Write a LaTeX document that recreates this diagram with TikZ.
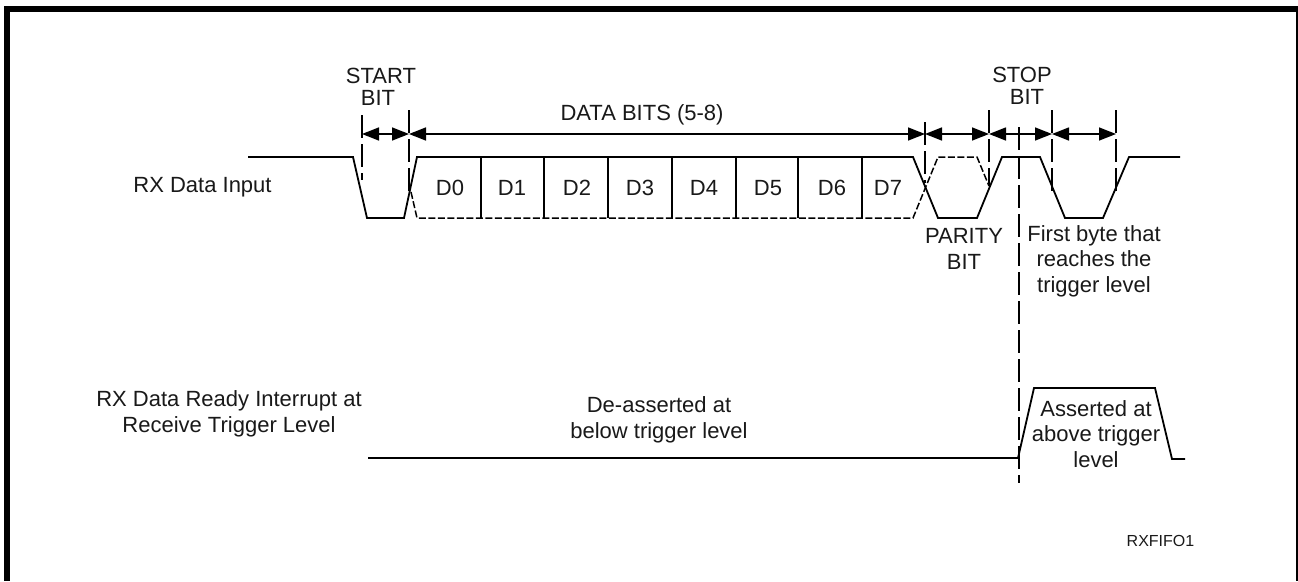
\documentclass[tikz,border=0pt]{standalone}
\usepackage{fontspec}
\setmainfont{Liberation Sans}
\usetikzlibrary{arrows.meta}
\tikzset{
 wave/.style={line width=1.8pt,line join=miter},
 hid/.style={line width=1.5pt,dash pattern=on 7pt off 2.5pt},
 tick/.style={line width=1.5pt,dash pattern=on 23pt off 6pt},
 span/.style={line width=1.5pt,{Triangle[length=17pt,width=13pt]}-{Triangle[length=17pt,width=13pt]}},
 lbl/.style={font=\fontsize{22}{25.5}\selectfont,align=center,inner sep=0pt,text=black!90},
 tight/.style={font=\fontsize{22}{22.5}\selectfont,align=center,inner sep=0pt,text=black!90},
 small/.style={font=\fontsize{16}{20}\selectfont,inner sep=0pt,text=black!90}
}
\begin{document}
\begin{tikzpicture}[x=1pt,y=-1pt]
\useasboundingbox (0,0) rectangle (1298,581);
\fill[white] (0,0) rectangle (1298,581);
\fill[black] (4,6) rectangle (1298,12);
\fill[black] (4,6) rectangle (10,581);
\fill[black] (1296,6) rectangle (1298,581);
% waveform
\draw[wave] (248,157) -- (353,157) -- (367,218) -- (404,218) -- (417,157) -- (913,157) -- (938,218) -- (977,218) -- (1002,157) -- (1040,157) -- (1065,218) -- (1103,218) -- (1129,157) -- (1180,157);
\draw[hid] (411,192) -- (417,218) -- (913,218) -- (938,157) -- (977,157) -- (989,186);
\foreach \x in {481,544,608,672,736,798,862} \draw[wave] (\x,157) -- (\x,218);
% ticks
\draw[tick] (362,115) -- (362,180);
\draw[tick] (409,110) -- (409,192);
\draw[tick] (925,122) -- (925,183);
\draw[tick] (989,110) -- (989,186);
\draw[tick] (1019,127) -- (1019,483);
\draw[tick] (1052,110) -- (1052,193);
\draw[tick] (1116,110) -- (1116,195);
% spans
\draw[span] (362,134) -- (409,134);
\draw[span] (409,134) -- (925,134);
\draw[span] (925,134) -- (989,134);
\draw[span] (989,134) -- (1052,134);
\draw[span] (1052,134) -- (1116,134);
% interrupt
\draw[wave] (368,458) -- (1018,458) -- (1034,388) -- (1155,388) -- (1172,459) -- (1185,459);
% labels
\node[tight] (a) at (381,87) {START\\\hspace*{-6pt}BIT};
\node[tight] (b) at (642,115) {DATA BITS (5-8)};
\node[tight] (c) at (1022,86) {STOP\\\hspace*{10pt}BIT};
\node[lbl] (d) at (202.5,187) {RX Data Input};
\foreach \x/\t in {450/D0,512/D1,577/D2,640/D3,704/D4,768/D5,832/D6,888/D7} \node[lbl] at (\x,188) {\t};
\node[lbl] (e) at (964,249) {PARITY\\BIT};
\node[lbl] (f) at (1094,261) {First byte that\\reaches the\\trigger level};
\node[lbl] (g) at (229,414) {RX Data Ready Interrupt at\\Receive Trigger Level};
\node[lbl] (h) at (659,420) {De-asserted at\\below trigger level};
\node[lbl] (i) at (1096,434) {Asserted at\\above trigger\\level};
\node[small] (j) at (1160.5,541) {RXFIFO1};
\end{tikzpicture}
\end{document}
